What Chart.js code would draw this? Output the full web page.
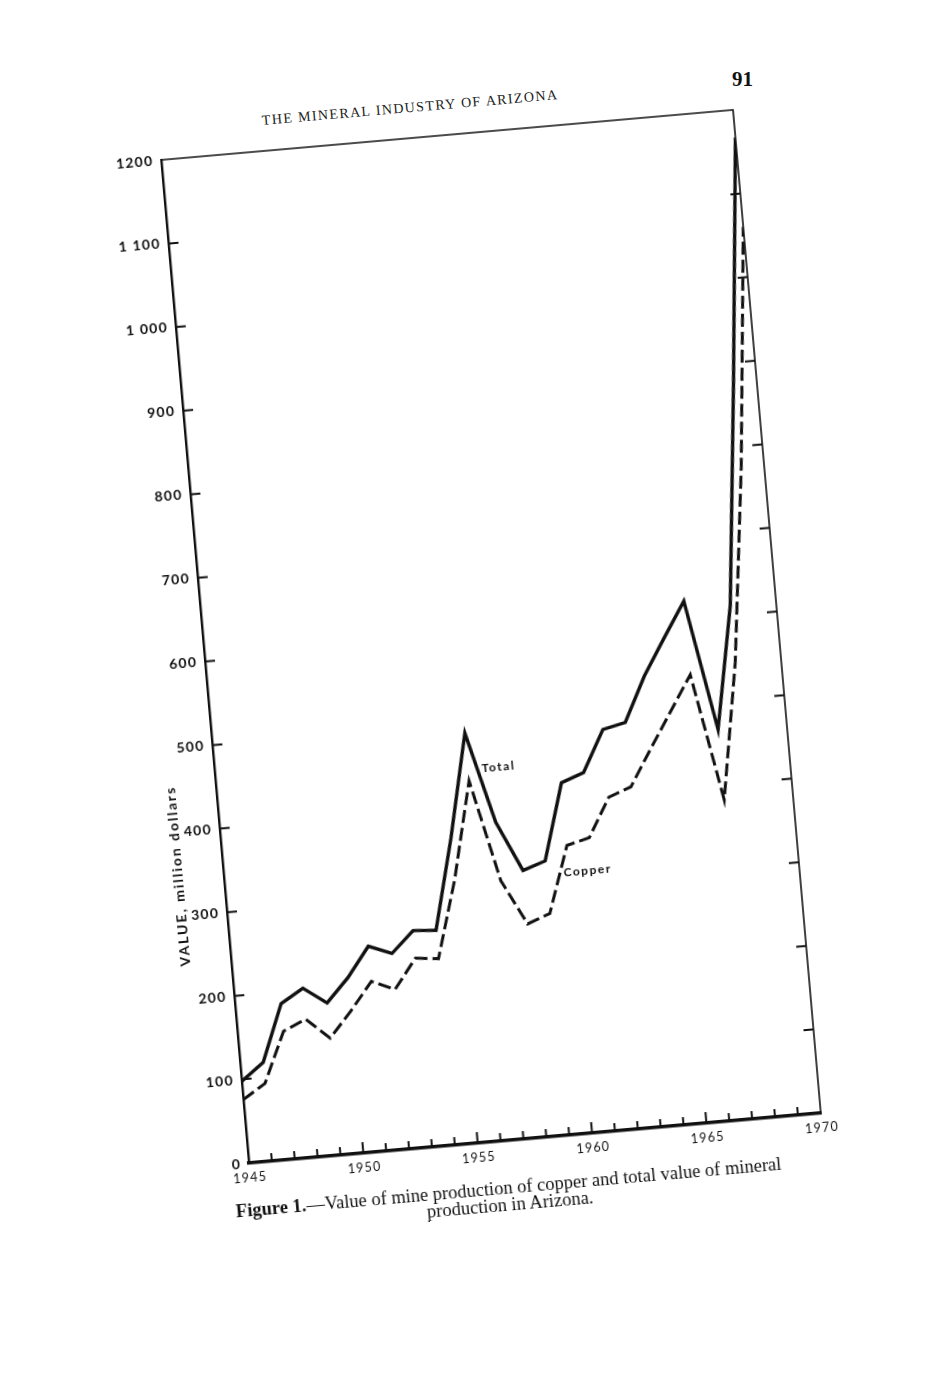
<!DOCTYPE html>
<html>
<head>
<meta charset="utf-8">
<script src="https://cdn.jsdelivr.net/npm/chart.js@4.4.1/dist/chart.umd.min.js"></script>
<style>
  html, body { margin: 0; padding: 0; background: #fff; width: 932px; height: 1380px; overflow: hidden; }
  #page-no { position: absolute; left: 732px; top: 67px; font: bold 21px "Liberation Serif", serif; color: #111; }
  #fig { position: absolute; left: 0; top: 0; transform: rotate(-5deg); }
  #fig canvas { display: block; }
  #runhead { position: absolute; white-space: nowrap; font: 14px "Liberation Serif", serif; letter-spacing: 1.4px; color: #1a1a1a; transform: translate(-50%, -50%); }
  #caption { position: absolute; white-space: nowrap; font: 18.5px/16.5px "Liberation Serif", serif; color: #111; text-align: center; transform: translate(-50%, 0); }
</style>
</head>
<body>
<div id="page-no">91</div>
<div id="fig">
  <canvas id="chart" width="674" height="1073"></canvas>
  <div id="runhead">THE MINERAL INDUSTRY OF ARIZONA</div>
  <div id="caption"><b>Figure 1.</b>—Value of mine production of copper and total value of mineral<br>production in Arizona.</div>
</div>
<script>
// values, million dollars
const years = [1945, 1946, 1947, 1948, 1949, 1950, 1951, 1952, 1953, 1954, 1955, 1956, 1957,
  1958, 1959, 1960, 1961, 1962, 1963, 1964, 1965, 1966, 1967, 1968, 1969, 1970];
const totalValue = [98, 118, 186, 202, 182, 210, 245, 234, 259, 257, 365, 488, 379,
  319, 328, 419, 429, 478, 484, 537, 580, 622, 466, 612, 880, 1167];
const copperValue = [76, 93, 153, 165, 140, 170, 203, 191, 226, 223, 315, 431, 309,
  255, 265, 344, 351, 397, 407, 450, 492, 534, 382, 544, 775, 1060];

const yTickValues = [0, 100, 200, 300, 400, 500, 600, 700, 800, 900, 1000, 1100, 1200];
const yTickLabels = ["0", "100", "200", "300", "400", "500", "600", "700", "800", "900", "1 000", "1 100", "1200"];
const xLabelYears = [1945, 1950, 1955, 1960, 1965, 1970];
const xTickLabels = ["1945", "1950", "1955", "1960", "1965", "1970"];

const ink = "#111";

// frame, inward ticks and the text placed on the plot
const framePlugin = {
  id: "frame",
  beforeDraw(chart) {
    chart.ctx.letterSpacing = "1.2px";
  },
  afterDraw(chart) {
    const { ctx, chartArea: a, scales: { x, y } } = chart;
    ctx.save();
    ctx.strokeStyle = ink;
    ctx.lineCap = "butt";

    ctx.lineWidth = 1.6;
    ctx.beginPath();
    ctx.moveTo(a.left, a.top);
    ctx.lineTo(a.right, a.top);
    ctx.lineTo(a.right, a.bottom);
    ctx.stroke();

    ctx.lineWidth = 2;
    yTickValues.forEach((v) => {
      if (v === 0 || v === 1200) return;
      const py = y.getPixelForValue(v);
      ctx.beginPath();
      ctx.moveTo(a.left, py);
      ctx.lineTo(a.left + 10, py);
      ctx.moveTo(a.right, py);
      ctx.lineTo(a.right - 10, py);
      ctx.stroke();
    });

    years.forEach((yr) => {
      if (yr === 1945 || yr === 1970) return;
      const px = x.getPixelForValue(yr);
      const len = yr % 5 === 0 ? 11 : 8;
      ctx.beginPath();
      ctx.moveTo(px, a.bottom);
      ctx.lineTo(px, a.bottom - len);
      ctx.stroke();
    });

    ctx.fillStyle = ink;
    ctx.textBaseline = "middle";
    ctx.textAlign = "left";
    ctx.letterSpacing = "1.5px";
    ctx.font = "bold 12px Lato";
    ctx.fillText("Total", x.getPixelForValue(1956.6), y.getPixelForValue(444));
    ctx.fillText("Copper", x.getPixelForValue(1959.75), y.getPixelForValue(312));

    // axis title, sitting low beside the value axis
    ctx.save();
    ctx.translate(a.left - 46, y.getPixelForValue(348));
    ctx.rotate(-Math.PI / 2);
    ctx.textAlign = "center";
    ctx.letterSpacing = "2px";
    ctx.font = "bold 14px Lato";
    ctx.fillText("VALUE, million dollars", 0, 0);
    ctx.restore();

    ctx.restore();
    ctx.letterSpacing = "0px";
  },
};

const config = {
  type: "line",
  data: {
    datasets: [
      {
        label: "Total",
        data: years.map((yr, i) => ({ x: yr, y: totalValue[i] })),
        borderColor: ink,
        borderWidth: 3.4,
        pointRadius: 0,
        tension: 0,
        borderJoinStyle: "miter",
        fill: false,
      },
      {
        label: "Copper",
        data: years.map((yr, i) => ({ x: yr, y: copperValue[i] })),
        borderColor: ink,
        borderWidth: 3,
        borderDash: [13, 5],
        pointRadius: 0,
        tension: 0,
        borderJoinStyle: "miter",
        fill: false,
      },
    ],
  },
  options: {
    responsive: false,
    maintainAspectRatio: false,
    animation: false,
    layout: { padding: { left: 10, right: 30, top: 20, bottom: 10 } },
    plugins: {
      legend: { display: false },
      tooltip: { enabled: false },
      title: { display: false },
    },
    scales: {
      x: {
        type: "linear",
        min: 1945,
        max: 1970,
        grid: { display: false, drawTicks: false },
        border: { display: true, width: 3.5, color: ink },
        afterFit: (scale) => { scale.height = 36; },
        ticks: {
          stepSize: 1,
          autoSkip: false,
          maxRotation: 0,
          minRotation: 0,
          padding: 7,
          color: ink,
          font: { family: "Lato", size: 12.5 },
          callback: (value) => {
            const i = xLabelYears.indexOf(value);
            return i >= 0 ? xTickLabels[i] : "";
          },
        },
      },
      y: {
        min: 0,
        max: 1200,
        grid: { display: false, drawTicks: false },
        border: { display: true, width: 2.4, color: ink },
        afterFit: (scale) => { scale.width = 60; },
        ticks: {
          stepSize: 100,
          autoSkip: false,
          padding: 8,
          color: ink,
          font: { family: "Lato", size: 14, weight: "bold" },
          callback: (value) => {
            const i = yTickValues.indexOf(value);
            return i >= 0 ? yTickLabels[i] : "";
          },
        },
      },
    },
  },
  plugins: [framePlugin],
};

const chart = new Chart(document.getElementById("chart"), config);

// turn the whole figure the way the scanned page is turned
const a = chart.chartArea;
const cx = (a.left + a.right) / 2;
const cy = (a.top + a.bottom) / 2;
const fig = document.getElementById("fig");
fig.style.transformOrigin = cx + "px " + cy + "px";
fig.style.left = (490.85 - cx) + "px";
fig.style.top = (636.1 - cy) + "px";

const head = document.getElementById("runhead");
head.style.left = (cx - 34.5) + "px";
head.style.top = (a.top - 29.7) + "px";

const cap = document.getElementById("caption");
cap.style.left = (cx - 30.5) + "px";
cap.style.top = (a.bottom + 39.2) + "px";
</script>
</body>
</html>
